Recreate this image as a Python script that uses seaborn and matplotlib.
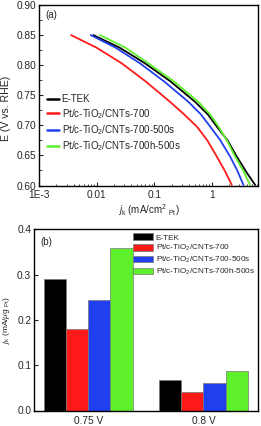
import numpy as np
import pandas as pd
import matplotlib
matplotlib.use("Agg")
import matplotlib.pyplot as plt
import seaborn as sns
from matplotlib.patches import Patch
from matplotlib.lines import Line2D
from matplotlib.ticker import FixedLocator, FixedFormatter, LogLocator, NullFormatter, MultipleLocator

# ---------------- data ----------------
samples = ["E-TEK", "Pt/c-TiO$_2$/CNTs-700", "Pt/c-TiO$_2$/CNTs-700-500s", "Pt/c-TiO$_2$/CNTs-700h-500s"]
colors = ["#000000", "#ff1a1a", "#2040f0", "#5ef02a"]

# (a) kinetic current (mA/cm2 Pt) vs potential (V vs RHE)
etek_j = [0.00877, 0.0251, 0.0692, 0.191, 0.511, 0.851, 1.216, 1.862, 2.70, 4.04, 5.62]
etek_E = [0.850, 0.829, 0.803, 0.773, 0.739, 0.718, 0.698, 0.675, 0.648, 0.621, 0.601]
red_j = [0.00360, 0.0100, 0.0273, 0.0708, 0.188, 0.331, 0.547, 0.832, 1.216, 1.66, 2.21]
red_E = [0.850, 0.829, 0.803, 0.773, 0.739, 0.718, 0.698, 0.675, 0.648, 0.625, 0.601]
blue_j = [0.00789, 0.0214, 0.0566, 0.148, 0.391, 0.646, 0.931, 1.38, 2.07, 2.75, 3.52]
blue_E = [0.850, 0.829, 0.803, 0.773, 0.739, 0.718, 0.698, 0.676, 0.648, 0.625, 0.601]
green_j = [0.01146, 0.0316, 0.0791, 0.219, 0.583, 0.933, 1.297, 1.862, 2.53, 3.47, 4.60]
green_E = [0.850, 0.829, 0.803, 0.773, 0.739, 0.718, 0.698, 0.673, 0.648, 0.625, 0.601]

# (b) mass activity (mA/ug Pt)
potentials = ["0.75 V", "0.8 V"]
etek_ma = [0.290, 0.067]
red_ma = [0.180, 0.040]
blue_ma = [0.245, 0.060]
green_ma = [0.360, 0.088]

# ticks
xa_ticks = [1e-3, 1e-2, 1e-1, 1]
xa_labels = ["1E-3", "0.01", "0.1", "1"]
ya_ticks = [0.60, 0.65, 0.70, 0.75, 0.80, 0.85, 0.90]
ya_labels = ["0.60", "0.65", "0.70", "0.75", "0.80", "0.85", "0.90"]
yb_ticks = [0.0, 0.1, 0.2, 0.3, 0.4]
yb_labels = ["0.0", "0.1", "0.2", "0.3", "0.4"]

# ---------------- style ----------------
sns.set_theme(style="ticks")
plt.rcParams["font.family"] = ["Liberation Sans", "DejaVu Sans"]
plt.rcParams["mathtext.fontset"] = "custom"
plt.rcParams["mathtext.rm"] = "Liberation Sans"
plt.rcParams["mathtext.it"] = "Liberation Sans:italic"
plt.rcParams["mathtext.bf"] = "Liberation Sans:bold"
plt.rcParams["axes.linewidth"] = 1.0
plt.rcParams["xtick.direction"] = "in"
plt.rcParams["ytick.direction"] = "in"

fig = plt.figure(figsize=(2.61, 4.26), dpi=100)
ax1 = fig.add_axes([39/261, 1-185.5/426, 219/261, 180.5/426])
ax2 = fig.add_axes([34/261, 1-410.5/426, 224/261, 181/426])

# ---------------- panel (a) ----------------
curves = [(etek_j, etek_E), (red_j, red_E), (blue_j, blue_E), (green_j, green_E)]
rows = []
for name, (jj, ee) in zip(samples, curves):
    for j, e in zip(jj, ee):
        rows.append({"sample": name, "j": j, "E": e})
dfa = pd.DataFrame(rows)
draw_order = [samples[0], samples[2], samples[3], samples[1]]
for name in draw_order:
    sub = dfa[dfa["sample"] == name]
    sns.lineplot(data=sub, x="j", y="E", color=colors[samples.index(name)], lw=1.3,
                 sort=False, estimator=None, ax=ax1, legend=False)
ax1.set_xscale("log")
ax1.set_xlim(1e-3, 6.3)
ax1.set_ylim(0.60, 0.90)
ax1.xaxis.set_major_locator(FixedLocator(xa_ticks))
ax1.xaxis.set_major_formatter(FixedFormatter(xa_labels))
ax1.xaxis.set_minor_locator(LogLocator(base=10, subs=np.arange(2, 10), numticks=20))
ax1.xaxis.set_minor_formatter(NullFormatter())
ax1.yaxis.set_major_locator(FixedLocator(ya_ticks))
ax1.yaxis.set_major_formatter(FixedFormatter(ya_labels))
ax1.yaxis.set_minor_locator(MultipleLocator(0.025))
ax1.tick_params(which="major", length=3, width=0.8, labelsize=7.3, pad=2, top=False, right=False)
ax1.tick_params(axis="x", which="major", pad=3.5)
ax1.tick_params(which="minor", length=1.8, width=0.6, top=False, right=False)
ax1.set_xlabel(r"$j_{\rm k}$ (mA/cm$^{2}$ $_{\rm Pt}$)", fontsize=7, labelpad=1)
ax1.set_ylabel("E (V vs. RHE)", fontsize=7.6)
ax1.yaxis.set_label_coords(-0.128, 0.43)
ax1.text(0.03, 0.945, "(a)", transform=ax1.transAxes, fontsize=7, ha="left", va="center")
handles_a = [Line2D([0], [0], color=c, lw=1.8) for c in colors]
ax1.legend(handles_a, samples, loc="upper left", bbox_to_anchor=(0.035, 0.505), frameon=False,
           fontsize=7, handlelength=1.3, handletextpad=0.25, labelspacing=0.25,
           borderpad=0, borderaxespad=0)

# ---------------- panel (b) ----------------
rows = []
for name, vals in zip(samples, [etek_ma, red_ma, blue_ma, green_ma]):
    for p, v in zip(potentials, vals):
        rows.append({"potential": p, "sample": name, "ma": v})
dfb = pd.DataFrame(rows)
sns.barplot(data=dfb, x="potential", y="ma", hue="sample", hue_order=samples, order=potentials,
            palette=colors, width=0.77, gap=0, dodge=True, saturation=1,
            edgecolor="#777777", linewidth=0.5, errorbar=None, legend=False, ax=ax2)
ax2.set_xlim(-0.471, 1.473)
ax2.set_ylim(0, 0.4)
ax2.yaxis.set_major_locator(FixedLocator(yb_ticks))
ax2.yaxis.set_major_formatter(FixedFormatter(yb_labels))
ax2.tick_params(axis="y", which="major", length=3, width=0.8, labelsize=7.3, pad=2, right=False)
ax2.tick_params(axis="x", length=0, labelsize=7.3, pad=4)
ax2.set_xlabel("")
ax2.set_ylabel(r"$j_{\rm k}$ (mA/$\mu$g $_{\rm Pt}$)", fontsize=6, labelpad=4)
ax2.text(0.03, 0.93, "(b)", transform=ax2.transAxes, fontsize=7, ha="left", va="center")
handles_b = [Patch(facecolor=c, edgecolor="#777777", linewidth=0.5) for c in colors]
ax2.legend(handles_b, samples, loc="upper left", bbox_to_anchor=(0.442, 0.978), frameon=False,
           fontsize=5.9, handlelength=2.5, handleheight=0.85, handletextpad=0.25, labelspacing=0.2,
           borderpad=0, borderaxespad=0)

for ax in (ax1, ax2):
    for s in ax.spines.values():
        s.set_visible(True)
        s.set_color("black")

fig.savefig("out.png", dpi=100)
